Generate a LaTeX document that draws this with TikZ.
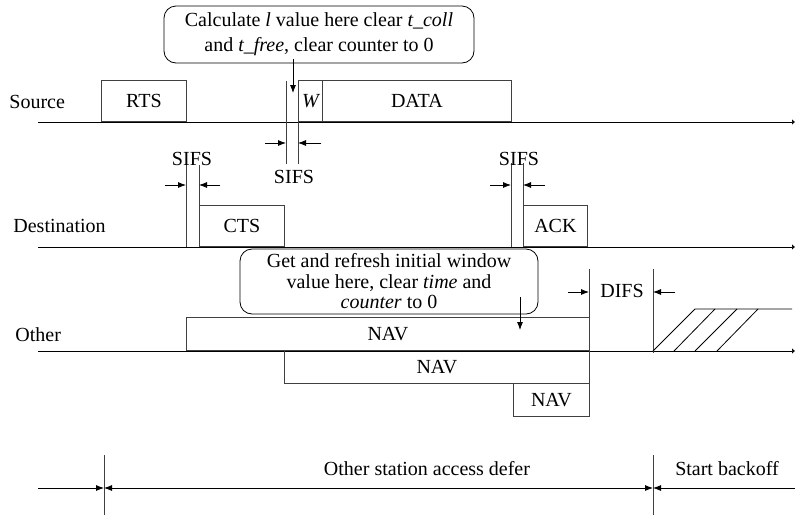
\documentclass[tikz,border=0pt]{standalone}
\usepackage{fontspec}
\setmainfont{Liberation Serif}
\usetikzlibrary{arrows.meta}
\begin{document}
\begin{tikzpicture}[x=1pt,y=-1pt,line width=0.8pt,
  every node/.style={font=\fontsize{20}{25}\selectfont,inner sep=0pt},
  box/.style={draw=black!75,minimum height=41pt,anchor=south west},
  navbox/.style={draw=black!75,minimum height=33pt,anchor=south west},
  tip/.style={-{Latex[length=8pt,width=6pt]}},
  dtip/.style={{Latex[length=8pt,width=6pt]}-{Latex[length=8pt,width=6pt]}},
  ltip/.style={{Latex[length=8pt,width=6pt]}-},
  axis/.style={-{Latex[length=3pt,width=6pt]}},
  vline/.style={draw=black!75},
  callout/.style={draw,rounded corners=12pt,align=center}]
\useasboundingbox (0,0) rectangle (795,515);

% labels
\node[anchor=base west] (srclab) at (9,108) {Source};
\node[anchor=base west] (dstlab) at (13,232) {Destination};
\node[anchor=base west] (othlab) at (15,341) {Other};

% time lines
\coordinate (srcL) at (38,122); \coordinate (srcR) at (795,122);
\coordinate (dstL) at (38,247); \coordinate (dstR) at (795,247);
\coordinate (othL) at (38,351); \coordinate (othR) at (795,351);
\draw[axis] (srcL) -- (srcR);
\draw[axis] (dstL) -- (dstR);
\draw[axis] (othL) -- (othR);

% source frames
\node[box,minimum width=85pt] (rts) at (101,122) {RTS};
\node[box,minimum width=24pt] (w) at (298,122) {\itshape W};
\node[box,minimum width=189pt] (data) at (322,122) {DATA};

% SIFS at source
\coordinate (a1t) at (286,81); \coordinate (a1b) at (286,164);
\coordinate (a2t) at (298,81); \coordinate (a2b) at (298,164);
\draw[vline] (a1t) -- (a1b);
\draw[vline] (a2t) -- (a2b);
\coordinate (a1l) at (265,143); \coordinate (a1r) at (286,143);
\coordinate (a2r) at (321,143); \coordinate (a2l) at (298,143);
\draw[tip] (a1l) -- (a1r);
\draw[tip] (a2r) -- (a2l);
\node[anchor=base] (sifs1) at (294,183) {SIFS};

% callout 1
\node[callout,minimum width=310pt,minimum height=57pt,
  font=\fontsize{20}{25}\selectfont] (c1) at (319,34.5)
  {Calculate \textit{l} value here clear \textit{t\_coll}\\and \textit{t\_free}, clear counter to 0};
\coordinate (c1s) at (293,59); \coordinate (c1e) at (293,93);
\draw[tip] (c1s) -- (c1e);

% destination
\node[box,minimum width=85pt] (cts) at (199,247) {CTS};
\node[box,minimum width=64pt] (ack) at (523,247) {ACK};
\coordinate (b1t) at (186,165); \coordinate (b1b) at (186,247);
\coordinate (b2t) at (199,165); \coordinate (b2b) at (199,247);
\draw[vline] (b1t) -- (b1b);
\draw[vline] (b2t) -- (b2b);
\coordinate (b1l) at (165,185); \coordinate (b1r) at (186,185);
\coordinate (b2r) at (220,185); \coordinate (b2l) at (199,185);
\draw[tip] (b1l) -- (b1r);
\draw[tip] (b2r) -- (b2l);
\node[anchor=base] (sifs2) at (192,165) {SIFS};

\coordinate (d1t) at (511,163); \coordinate (d1b) at (511,247);
\coordinate (d2t) at (523,163); \coordinate (d2b) at (523,247);
\draw[vline] (d1t) -- (d1b);
\draw[vline] (d2t) -- (d2b);
\coordinate (d1l) at (490,185); \coordinate (d1r) at (511,185);
\coordinate (d2r) at (545,185); \coordinate (d2l) at (523,185);
\draw[tip] (d1l) -- (d1r);
\draw[tip] (d2r) -- (d2l);
\node[anchor=base] (sifs3) at (519,165) {SIFS};

% NAV boxes
\node[navbox,minimum width=403pt] (nav1) at (186,351) {NAV};
\node[navbox,minimum width=305pt] (nav2) at (284,384) {NAV};
\node[navbox,minimum width=76pt] (nav3) at (513,417) {NAV};

% callout 2
\node[callout,minimum width=298pt,minimum height=65pt,
  font=\fontsize{20}{20.5}\selectfont] (c2) at (389,281.5)
  {Get and refresh initial window\\value here, clear \textit{time} and\\\textit{counter} to 0};
\coordinate (c2s) at (520,297); \coordinate (c2e) at (520,330);
\draw[tip] (c2s) -- (c2e);

% DIFS
\coordinate (e1t) at (589,269); \coordinate (e1b) at (589,417);
\coordinate (e2t) at (653,269); \coordinate (e2b) at (653,353);
\draw[vline] (e1t) -- (e1b);
\draw[vline] (e2t) -- (e2b);
\coordinate (e1l) at (568,292); \coordinate (e1r) at (589,292);
\coordinate (e2r) at (675,292); \coordinate (e2l) at (653,292);
\draw[tip] (e1l) -- (e1r);
\draw[tip] (e2r) -- (e2l);
\node[anchor=base] (difs) at (622,297) {DIFS};

% backoff hatch
\draw (653,351) -- (695,309) -- (792,309);
\draw (674,351) -- (715,309);
\draw (695,351) -- (737,309);
\draw (717,351) -- (758,309);

% bottom row
\coordinate (f0) at (38,488);
\coordinate (f1) at (104,488);
\coordinate (f2) at (653,488);
\coordinate (f3) at (795,488);
\coordinate (f1t) at (104,455); \coordinate (f1b) at (104,515);
\coordinate (f2t) at (653,455); \coordinate (f2b) at (653,515);
\draw[vline] (f1t) -- (f1b);
\draw[vline] (f2t) -- (f2b);
\draw[tip] (f0) -- (f1);
\draw[dtip] (f1) -- (f2);
\draw[ltip] (f2) -- (f3);
\node[anchor=base] (defer) at (427,475) {Other station access defer};
\node[anchor=base] (backoff) at (727,475) {Start backoff};
\end{tikzpicture}
\end{document}
